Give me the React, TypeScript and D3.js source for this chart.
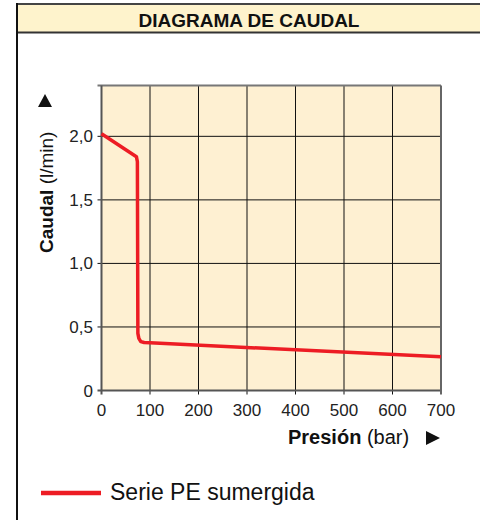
import React from "react";
import * as d3 from "d3";

const title = "DIAGRAMA DE CAUDAL";
const seriesName = "Serie PE sumergida";
const pressure = [0, 72, 74, 75, 77, 81, 88, 100, 700];
const flow = [2.02, 1.84, 1.8, 0.45, 0.41, 0.385, 0.378, 0.375, 0.265];
const xTicks = [0, 100, 200, 300, 400, 500, 600, 700];
const yTicks = [0, 0.5, 1.0, 1.5, 2.0];
const yTickLabels = ["0", "0,5", "1,0", "1,5", "2,0"];

export default function App() {
  const W = 480, H = 520;
  const left = 101.5, right = 441, top = 85.5, bottom = 390.5;
  const x = d3.scaleLinear().domain([0, 700]).range([left, right]);
  const y = d3.scaleLinear().domain([0, 2.4]).range([bottom, top]);
  const pts = pressure.map((p, i) => [p, flow[i]] as [number, number]);
  const line = d3
    .line<[number, number]>()
    .x((d) => x(d[0]))
    .y((d) => y(d[1]))
    .curve(d3.curveLinear);
  const font = "'Liberation Sans', Arial, sans-serif";
  return (
    <svg
      width={W}
      height={H}
      style={{ position: "absolute", left: 0, top: 0, background: "#fff" }}
      fontFamily={font}
    >
      {/* header */}
      <rect x={17} y={4} width={470} height={28} fill="#fef3cc" />
      <line x1={16} x2={482} y1={4} y2={4} stroke="#444" strokeWidth={2} />
      <line x1={16} x2={482} y1={32.5} y2={32.5} stroke="#333" strokeWidth={2} />
      <line x1={17} x2={17} y1={3} y2={520} stroke="#111" strokeWidth={2} />
      <text x={249} y={26.5} textAnchor="middle" fontWeight="bold" fontSize={19} fill="#111">
        {title}
      </text>

      {/* plot */}
      <rect x={left} y={top} width={right - left} height={bottom - top} fill="#fef0d2" />
      {xTicks.slice(1, -1).map((t) => (
        <line key={"gx" + t} x1={x(t)} x2={x(t)} y1={top} y2={bottom + 4} stroke="#111" strokeWidth={1} />
      ))}
      {yTicks.slice(1).map((t) => (
        <line key={"gy" + t} x1={left - 4} x2={right} y1={y(t)} y2={y(t)} stroke="#111" strokeWidth={1} />
      ))}
      <line x1={left - 4} x2={right} y1={top} y2={top} stroke="#777" strokeWidth={2} />
      <line x1={left} x2={left} y1={top} y2={bottom + 4} stroke="#555" strokeWidth={2} />
      <line x1={left - 4} x2={right} y1={bottom} y2={bottom} stroke="#555" strokeWidth={2} />
      <line x1={right} x2={right} y1={top} y2={bottom + 4} stroke="#666" strokeWidth={2} />

      {xTicks.map((t) => (
        <text key={"tx" + t} x={x(t)} y={416} textAnchor="middle" fontSize={17} fill="#222">
          {t}
        </text>
      ))}
      {yTicks.map((t, i) => (
        <text key={"ty" + t} x={93} y={y(t) + 6} textAnchor="end" fontSize={17} fill="#222">
          {yTickLabels[i]}
        </text>
      ))}

      <path d={line(pts) || ""} fill="none" stroke="#ed1c24" strokeWidth={3.5} strokeLinejoin="round" />

      {/* y label */}
      <text transform="translate(53,253) rotate(-90)" fontSize={19} fill="#111">
        <tspan fontWeight="bold">Caudal</tspan>
        <tspan> (l/min)</tspan>
      </text>
      <path d="M38,107 L52,107 L45,94 Z" fill="#111" />

      {/* x label */}
      <text x={288} y={444} fontSize={20} fill="#111">
        <tspan fontWeight="bold">Presión</tspan>
        <tspan> (bar)</tspan>
      </text>
      <path d="M426,431 L426,445 L440,438 Z" fill="#111" />

      {/* legend */}
      <line x1={41} x2={101} y1={493} y2={493} stroke="#ed1c24" strokeWidth={4.5} />
      <text x={110} y={500} fontSize={23} fill="#111">
        {seriesName}
      </text>
    </svg>
  );
}
